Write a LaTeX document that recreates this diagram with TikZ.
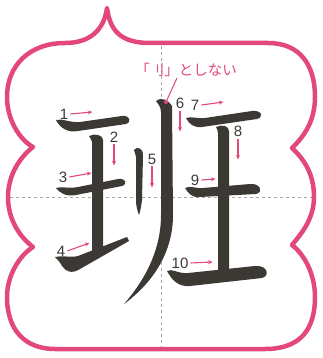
\documentclass[tikz,border=0pt]{standalone}
\usepackage{fontspec}
\setmainfont{Liberation Sans}
\newfontfamily\jpfont{Noto Sans CJK JP}
\usetikzlibrary{arrows.meta}
\definecolor{framepink}{HTML}{E2487A}
\definecolor{ink}{HTML}{3C3935}
\tikzset{
  brush/.style={fill=ink, draw=none},
  guide/.style={gray!70, line width=0.6pt, dash pattern=on 3pt off 3pt},
  order/.style={framepink, line width=1.1pt, -{Stealth[length=4.5pt,width=4pt]}},
  num/.style={text=ink, font=\fontsize{15}{15}\selectfont, inner sep=0pt}
}
\begin{document}
\begin{tikzpicture}[x=1pt, y=-1pt]
    \useasboundingbox (0,0) rectangle (322,358);
    % 補助線
    \draw[guide] (161,46) -- (161,348);
    \draw[guide] (10,197) -- (312,197);

    % 枠
    \draw[framepink, line width=4.5pt, line join=round]
      (107,8) .. controls (110,30) and (120,43) .. (150,43) -- (268,43)
      .. controls (300,43) and (315,65) .. (315,97)
      .. controls (315,125) and (300,140) .. (292,148)
      .. controls (305,160) and (314,175) .. (314,197)
      .. controls (314,220) and (300,235) .. (292,245)
      .. controls (305,255) and (315,275) .. (315,297)
      .. controls (315,330) and (300,349) .. (265,349) -- (55,349)
      .. controls (25,349) and (7,330) .. (7,297)
      .. controls (7,275) and (20,255) .. (33,247)
      .. controls (20,237) and (8,220) .. (8,197)
      .. controls (8,175) and (20,157) .. (33,147)
      .. controls (20,140) and (7,120) .. (7,97)
      .. controls (7,65) and (30,43) .. (65,43)
      .. controls (90,43) and (104,30) .. (107,8) -- cycle;

    % 字画
    \fill[brush] (56,120) .. controls (62,118) and (70,123) .. (80,122) -- (122,116)
      .. controls (130,115) and (132,122) .. (126,124) -- (78,131)
      .. controls (68,133) and (60,128) .. cycle;
    \fill[brush] (89,136) .. controls (95,133) and (103,135) .. (103,140) -- (103,252)
      -- (92,258) -- (92,142) .. controls (92,140) and (90,138) .. cycle;
    \fill[brush] (56,188) .. controls (62,186) and (68,189) .. (78,187) -- (118,179)
      .. controls (126,178) and (128,184) .. (122,186) -- (76,195)
      .. controls (66,197) and (60,193) .. cycle;
    \fill[brush] (55,257) .. controls (62,255) and (70,258) .. (78,256) -- (127,237)
      -- (129,241) -- (80,269) .. controls (72,274) and (66,272) .. (62,266)
      .. controls (60,262) and (57,259) .. cycle;
    \fill[brush] (134,150) .. controls (137,146) and (143,148) .. (143,155) -- (142,200)
      .. controls (141,208) and (140,212) .. (139,215)
      .. controls (137,210) and (136,205) .. (136,200) -- (136,158)
      .. controls (136,154) and (134,152) .. cycle;
    \fill[brush] (156,101) .. controls (160,97) and (168,99) .. (172,106) -- (173,215)
      .. controls (173,255) and (150,285) .. (124,304)
      .. controls (145,280) and (161,250) .. (161,215) -- (161,112)
      .. controls (161,107) and (158,104) .. cycle;
    \fill[brush] (186,118) .. controls (192,116) and (198,119) .. (205,118) -- (252,111)
      .. controls (262,110) and (264,117) .. (257,119) -- (202,127)
      .. controls (194,128) and (189,124) .. cycle;
    \fill[brush] (216,127) .. controls (222,124) and (229,126) .. (229,131) -- (229,272)
      -- (218,272) -- (218,133) .. controls (218,131) and (217,129) .. cycle;
    \fill[brush] (185,188) .. controls (190,185) and (196,189) .. (203,188) -- (250,184)
      .. controls (260,183) and (264,192) .. (256,194) -- (200,197)
      .. controls (192,198) and (188,193) .. cycle;
    \fill[brush] (167,271) .. controls (172,268) and (178,274) .. (188,273) -- (255,266)
      .. controls (268,265) and (270,276) .. (262,278) -- (190,286)
      .. controls (178,287) and (172,280) .. cycle;

    % 注意書き
    \node[text=framepink, font=\jpfont\fontsize{14.5}{14.5}\selectfont, inner sep=1pt] (note) at (186,70) {「刂」としない};
    \coordinate (head) at (166,102);
    \draw[framepink, line width=1pt] (note.south -| 177,0) -- (head);
    \fill[framepink] (head) circle (2pt);

    % 筆順
    \node[num] (n1) at (64,114) {1};
    \node[num] (n2) at (114,137) {2};
    \node[num] (n3) at (63,177) {3};
    \node[num] (n4) at (61,251) {4};
    \node[num] (n5) at (152,159) {5};
    \node[num] (n6) at (180,103) {6};
    \node[num] (n7) at (195,105) {7};
    \node[num] (n8) at (238,131) {8};
    \node[num] (n9) at (195,180) {9};
    \node[num] (n10) at (180,263) {10};
    \draw[order] ([xshift=2pt]n1.east) -- ++(22,-2);
    \draw[order] ([yshift=-2pt]n2.south) -- ++(0,21);
    \draw[order] ([xshift=2pt]n3.east) -- ++(22,-4);
    \draw[order] ([xshift=2pt]n4.east) -- ++(22,-8);
    \draw[order] ([yshift=-2pt]n5.south) -- ++(0,21);
    \draw[order] ([yshift=-2pt]n6.south) -- ++(0,21);
    \draw[order] ([xshift=2pt]n7.east) -- ++(22,-3);
    \draw[order] ([yshift=-2pt]n8.south) -- ++(0,21);
    \draw[order] ([xshift=2pt]n9.east) -- ++(14,-1);
    \draw[order] ([xshift=2pt]n10.east) -- ++(22,-1);
\end{tikzpicture}
\end{document}
